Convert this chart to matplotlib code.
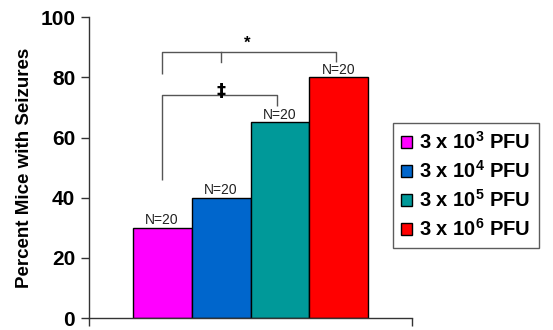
import matplotlib
matplotlib.use("Agg")
import matplotlib.pyplot as plt
import numpy as np

plt.rcParams['font.family'] = ['Liberation Sans', 'DejaVu Sans']
plt.rcParams['mathtext.fontset'] = 'custom'
plt.rcParams['mathtext.rm'] = 'Liberation Sans'
plt.rcParams['mathtext.bf'] = 'Liberation Sans:bold'

# Data
doses = ["3", "4", "5", "6"]
percent_seizures = [30, 40, 65, 80]
n_labels = ["N=20", "N=20", "N=20", "N=20"]
yticks = [0, 20, 40, 60, 80, 100]
colors = ['#ff00ff', '#0066cc', '#009999', '#ff0000']

# significance brackets: (left bar, right bar, height, left leg end, right leg end, symbol)
brackets = [
    (0, 2, 74, 46, 70.5, "\u2021"),
    (0, 3, 88.5, 81, 85, "*"),
]

fig = plt.figure(figsize=(5.53, 3.3), dpi=100)
ax = fig.add_axes([0.161, 0.036, 0.584, 0.912])

x = np.arange(len(percent_seizures))
bars = ax.bar(x, percent_seizures, width=1.0, color=colors, edgecolor='black', linewidth=1,
              label=[f"3 x 10$^\\mathbf{{{d}}}$ PFU" for d in doses])

for xi, h, lab in zip(x, percent_seizures, n_labels):
    ax.text(xi, h + 0.2, lab, ha='center', va='bottom', fontsize=10, color='#222222')

gray = '#555555'
for left, right, h, lleg, rleg, sym in brackets:
    xl = x[left]
    xr = x[right] - 0.05
    xm = x[left + 1]
    ax.plot([xl, xl, xr, xr], [lleg, h, h, rleg], color=gray, lw=1, solid_capstyle='butt')
    if sym == "*":
        ax.plot([xm, xm], [h, h - 3.5], color=gray, lw=1)
        ax.text((xl + xr) / 2 - 0.03, h + 0.3, sym, ha='center', va='bottom',
                fontsize=12, fontweight='bold')
    else:
        ax.text(xm, h - 1.5, sym, ha='center', va='bottom', fontsize=13, fontweight='bold',
                family=['DejaVu Sans'])

ax.set_xlim(-1.24, 4.24)
ax.set_ylim(0, 100)
ax.set_yticks(yticks)
ax.set_yticklabels([str(t) for t in yticks], fontsize=15, fontweight='bold')
ax.set_xticks([-1.24, 4.24])
ax.set_xticklabels([])
ax.tick_params(axis='y', length=6, width=1, color='#333333', pad=4)
ax.tick_params(axis='x', length=6, width=1, color='#333333')
ax.spines['top'].set_visible(False)
ax.spines['right'].set_visible(False)
for s in ['left', 'bottom']:
    ax.spines[s].set_color('#333333')
    ax.spines[s].set_linewidth(1)
ax.set_ylabel("Percent Mice with Seizures", fontsize=13.5, fontweight='bold', labelpad=5)

leg = fig.legend(handles=bars, loc='upper left', bbox_to_anchor=(0.711, 0.628),
                 frameon=True, fancybox=False, edgecolor='#333333',
                 prop={'size': 14.5, 'weight': 'bold'},
                 handlelength=0.55, handleheight=0.55, handletextpad=0.35,
                 labelspacing=0.36, borderpad=0.4, borderaxespad=0)
leg.get_frame().set_linewidth(1)

fig.savefig("out.png", dpi=100)
